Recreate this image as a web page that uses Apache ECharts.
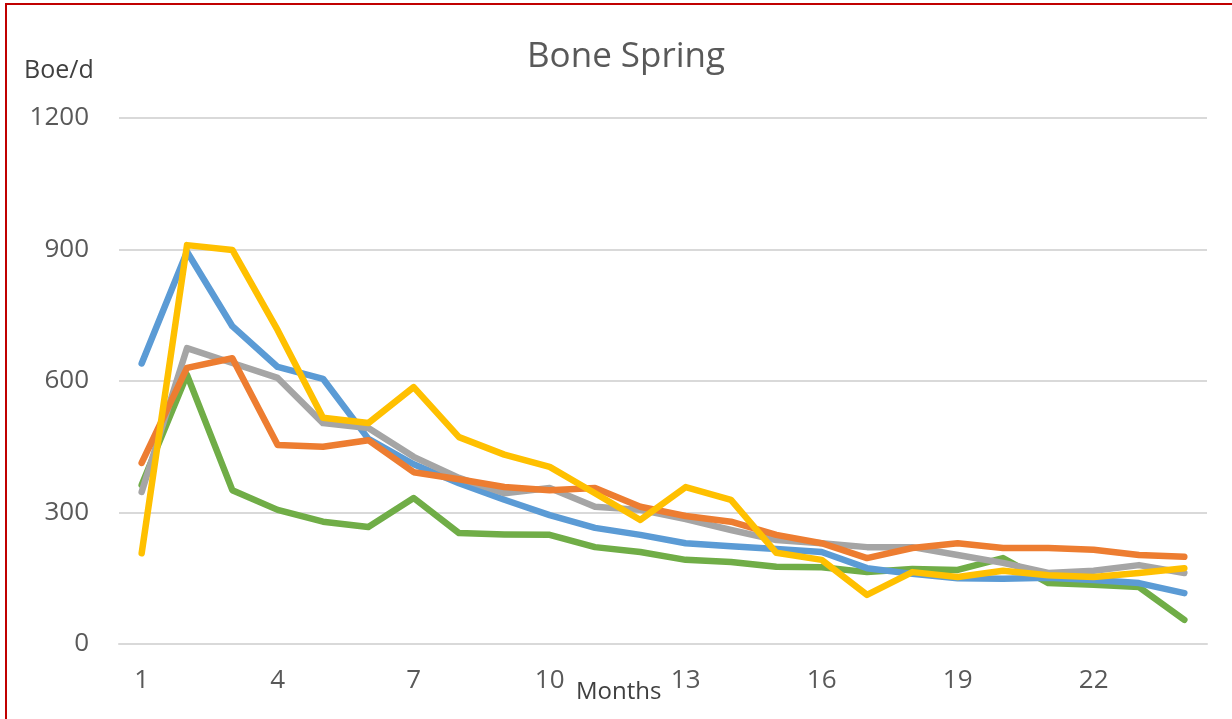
<!DOCTYPE html>
<html>
<head>
<meta charset="utf-8">
<script src="https://cdn.jsdelivr.net/npm/echarts@6/dist/echarts.min.js"></script>
<style>
  html, body { margin: 0; padding: 0; background: #fff; }
  #chart { width: 1232px; height: 719px; }
</style>
</head>
<body>
<div id="chart"></div>
<script>
// months 1..24
const months = Array.from({ length: 24 }, (_, i) => String(i + 1));

const blue   = [640, 895, 725, 632, 605, 468, 410, 367, 329, 294, 265, 249, 230, 223, 217, 210, 173, 160, 150, 149, 151, 146, 139, 116];
const orange = [413, 630, 652, 454, 450, 465, 392, 376, 358, 351, 356, 313, 292, 279, 249, 230, 196, 219, 230, 219, 219, 215, 203, 199];
const gray   = [347, 675, 641, 607, 504, 493, 427, 379, 344, 356, 313, 306, 285, 260, 237, 230, 221, 221, 203, 185, 162, 167, 180, 162];
const yellow = [207, 910, 899, 716, 516, 504, 586, 472, 432, 404, 344, 283, 358, 329, 208, 192, 112, 164, 153, 167, 157, 153, 162, 173];
const green  = [363, 614, 351, 306, 279, 267, 333, 253, 250, 249, 221, 210, 192, 187, 176, 175, 164, 171, 169, 196, 139, 135, 130, 55];

const FONT = '"Open Sans", "Noto Sans", sans-serif';
const TXT = '#595959';

function line(name, data, color) {
  return {
    name, type: 'line', data,
    symbol: 'none',
    lineStyle: { color, width: 6.5, cap: 'round', join: 'round' },
    itemStyle: { color },
    emphasis: { disabled: true },
    animation: false
  };
}

const chart = echarts.init(document.getElementById('chart'), null, { renderer: 'canvas' });
chart.setOption({
  animation: false,
  backgroundColor: '#fff',
  title: {
    text: 'Bone Spring',
    left: 522,
    top: 35,
    textStyle: { fontFamily: FONT, fontSize: 35, fontWeight: 'normal', color: TXT }
  },
  grid: { left: 119, right: 25, top: 118, bottom: 75 },
  xAxis: {
    type: 'category',
    data: months,
    boundaryGap: true,
    axisLine: { show: true, lineStyle: { color: '#D9D9D9', width: 2 } },
    axisTick: { show: false },
    axisLabel: { interval: 2, color: TXT, fontFamily: FONT, fontSize: 26, margin: 24 }
  },
  yAxis: {
    type: 'value',
    min: 0, max: 1200, interval: 300,
    axisLine: { show: false },
    axisTick: { show: false },
    axisLabel: { color: TXT, fontFamily: FONT, fontSize: 26, margin: 30, formatter: v => String(v) },
    splitLine: { lineStyle: { color: '#D9D9D9', width: 2 } }
  },
  graphic: [
    {
      type: 'rect',
      shape: { x: 6, y: 4, width: 1240, height: 730 },
      style: { fill: 'none', stroke: '#C00000', lineWidth: 2 },
      silent: true
    },
    {
      type: 'text', left: 24, top: 58,
      style: { text: 'Boe/d', fill: '#404040', font: '25px ' + FONT }
    },
    {
      type: 'text', left: 576, top: 680,
      style: { text: 'Months', fill: '#404040', font: '24px ' + FONT }
    }
  ],
  series: [
    line('Green', green, '#70AD47'),
    line('Blue', blue, '#5B9BD5'),
    line('Gray', gray, '#A5A5A5'),
    line('Orange', orange, '#ED7D31'),
    line('Yellow', yellow, '#FFC000')
  ]
});
</script>
</body>
</html>
